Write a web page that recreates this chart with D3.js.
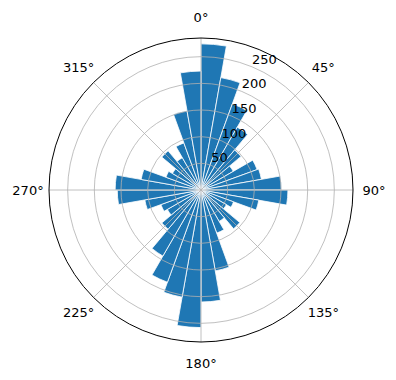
<!DOCTYPE html>
<html>
<head>
<meta charset="utf-8">
<script src="https://cdn.jsdelivr.net/npm/d3@7"></script>
<style>
  body { margin: 0; background: #fff; }
  text { font-family: "DejaVu Sans", sans-serif; font-size: 13px; fill: #000; }
</style>
</head>
<body>
<div id="chart"></div>
<script>
let svgWidth = 396;
let svgHeight = 380;

// bin start angles in degrees (clockwise from north), 10 degree bins
let binStarts = d3.range(0, 360, 10);
// counts per bin
let counts = [274, 214, 172, 136, 98, 70, 112, 115, 151, 163,
              110, 65, 55, 95, 68, 86, 154, 210, 258, 204,
              184, 143, 96, 73, 80, 107, 157, 161, 114, 70,
              62, 96, 70, 94, 151, 223];
let radialTicks = [50, 100, 150, 200, 250];
let angleTicks = [0, 45, 90, 135, 180, 225, 270, 315];

let cx = 201, cy = 190, outerR = 152;
let rMax = 285;

let svg = d3.select("#chart")
  .append("svg")
  .attr("width", svgWidth)
  .attr("height", svgHeight);

let g = svg.append("g")
  .attr("transform", `translate(${cx}, ${cy})`);

let rScale = d3.scaleLinear()
  .domain([0, rMax])
  .range([0, outerR]);

let toRad = d => d * Math.PI / 180;

// bars
let arc = d3.arc()
  .innerRadius(0)
  .outerRadius(d => rScale(d.value))
  .startAngle(d => toRad(d.start))
  .endAngle(d => toRad(d.start + 10));

let bins = binStarts.map((s, i) => ({start: s, value: counts[i]}));

g.selectAll("path.bar")
  .data(bins)
  .enter()
  .append("path")
  .attr("class", "bar")
  .attr("d", arc)
  .attr("fill", "#1f77b4")
  .attr("stroke", "#fff")
  .attr("stroke-width", 0.8)
  .attr("stroke-linejoin", "miter");

// grid circles
g.selectAll("circle.grid")
  .data(radialTicks)
  .enter()
  .append("circle")
  .attr("r", d => rScale(d))
  .attr("fill", "none")
  .attr("stroke", "#b0b0b0")
  .attr("stroke-width", 0.8);

// spokes
g.selectAll("line.spoke")
  .data(angleTicks)
  .enter()
  .append("line")
  .attr("x1", 0)
  .attr("y1", 0)
  .attr("x2", d => outerR * Math.sin(toRad(d)))
  .attr("y2", d => -outerR * Math.cos(toRad(d)))
  .attr("stroke", "#b0b0b0")
  .attr("stroke-width", 0.8);

// outer frame
g.append("circle")
  .attr("r", outerR)
  .attr("fill", "none")
  .attr("stroke", "#000")
  .attr("stroke-width", 1);

// angle labels
let labelR = outerR + 21;
g.selectAll("text.theta")
  .data(angleTicks)
  .enter()
  .append("text")
  .attr("x", d => labelR * Math.sin(toRad(d)))
  .attr("y", d => -labelR * Math.cos(toRad(d)))
  .attr("text-anchor", "middle")
  .attr("dominant-baseline", "central")
  .text(d => d + "°");

// radial labels at 22.5 degrees
let rlabAng = toRad(22.5);
g.selectAll("text.rlab")
  .data(radialTicks)
  .enter()
  .append("text")
  .attr("x", d => rScale(d) * Math.sin(rlabAng))
  .attr("y", d => -rScale(d) * Math.cos(rlabAng) - 3)
  .attr("text-anchor", "start")
  .text(d => d);
</script>
</body>
</html>
